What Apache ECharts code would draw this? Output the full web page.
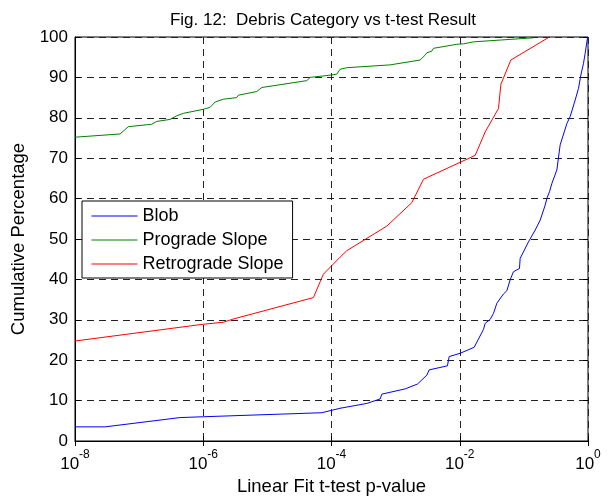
<!DOCTYPE html>
<html>
<head>
<meta charset="utf-8">
<script src="https://cdn.jsdelivr.net/npm/echarts@6/dist/echarts.min.js"></script>
<style>html,body{margin:0;padding:0;background:#fff}#c{width:610px;height:498px}</style>
</head>
<body>
<div id="c"></div>
<script>
// Blob
const blobP = [1e-8, 2.94e-8, 4.35e-7, 1e-6, 7.06e-5, 1.36e-4, 3.56e-4, 5.73e-4, 6.09e-4, 1.41e-3, 2.19e-3, 3.07e-3, 3.33e-3, 6.42e-3, 6.84e-3, 1.01e-2, 1.68e-2, 2.34e-2, 2.49e-2, 2.98e-2, 3.36e-2, 3.79e-2, 4.81e-2, 5.43e-2, 6.11e-2, 6.88e-2, 8.54e-2, 8.75e-2, 0.118, 0.150, 0.180, 0.215, 0.229, 0.251, 0.274, 0.327, 0.368, 0.469, 0.527, 0.631, 0.711, 0.775, 0.851, 0.904, 0.98, 1.0];
const blobPct = [3.5, 3.5, 5.8, 6.0, 7.0, 8.1, 9.3, 10.4, 11.6, 12.9, 14.1, 16.3, 17.6, 18.6, 20.9, 21.7, 23.2, 27.6, 29.1, 30.1, 31.6, 34.1, 36.4, 37.2, 39.9, 41.9, 42.7, 45.2, 49.3, 52.2, 54.7, 58.4, 60.1, 61.7, 63.8, 67.1, 73.3, 78.6, 80.3, 84.4, 87.3, 90.6, 93.5, 96.0, 99.7, 100];
// Prograde Slope
const proP = [1e-8, 5.04e-8, 6.79e-8, 1.57e-7, 1.88e-7, 3.04e-7, 3.86e-7, 4.90e-7, 1.0e-6, 1.28e-6, 1.53e-6, 2.06e-6, 3.33e-6, 3.53e-6, 6.84e-6, 8.18e-6, 4.12e-5, 4.64e-5, 1.01e-4, 1.21e-4, 1.36e-4, 1.73e-4, 8.2e-4, 2.41e-3, 2.88e-3, 3.07e-3, 3.67e-3, 3.89e-3, 9.0e-3, 1.14e-2, 1.64e-2, 0.141];
const proPct = [75.2, 76.0, 77.8, 78.4, 79.1, 79.6, 80.5, 81.1, 82.1, 82.6, 83.9, 84.6, 85.0, 85.6, 86.5, 87.5, 89.2, 90.0, 90.6, 90.8, 92.0, 92.4, 93.1, 94.3, 95.5, 96.1, 96.5, 97.2, 98.2, 98.3, 98.8, 99.8];
// Retrograde Slope
const retP = [1e-8, 1e-6, 2.06e-6, 2.95e-6, 5.22e-5, 7.48e-5, 1.36e-4, 1.73e-4, 7.3e-4, 1.79e-3, 2.72e-3, 1.74e-2, 2.49e-2, 4.02e-2, 4.38e-2, 6.27e-2, 0.25];
const retPct = [24.75, 28.9, 29.4, 30.2, 35.5, 41.3, 45.5, 47.1, 53.2, 59.0, 64.8, 70.7, 76.5, 82.3, 88.3, 94.3, 100];

const seriesNames = ['Blob', 'Prograde Slope', 'Retrograde Slope'];
const xTickExp = [-8, -6, -4, -2, 0];
const yTicks = [0, 10, 20, 30, 40, 50, 60, 70, 80, 90, 100];

const zip = (a, b) => a.map((v, i) => [v, b[i]]);
const font = 'Liberation Sans, Arial, sans-serif';

const chart = echarts.init(document.getElementById('c'));
const gridLine = { show: true, lineStyle: { color: '#222', width: 1, type: [7, 5] } };
chart.setOption({
  animation: false,
  backgroundColor: '#fff',
  title: {
    text: 'Fig. 12:  Debris Category vs t-test Result',
    left: 318, top: 7, textAlign: 'center',
    textStyle: { fontFamily: font, fontSize: 17, fontWeight: 'normal', color: '#000' }
  },
  grid: { left: 75, top: 37, right: 22, bottom: 57, show: true, borderColor: '#000', borderWidth: 1, backgroundColor: 'transparent', outerBoundsMode: 'none', containLabel: false },
  legend: {
    orient: 'vertical', left: 82, top: 201,
    data: seriesNames,
    backgroundColor: '#fff', borderColor: '#000', borderWidth: 1,
    padding: [6, 9, 5, 9],
    itemWidth: 46, itemHeight: 18, itemGap: 6,
    itemStyle: { opacity: 0 },
    lineStyle: { width: 1 },
    textStyle: { fontFamily: font, fontSize: 18, color: '#000' }
  },
  xAxis: [{
    type: 'log', logBase: 10, min: 1e-8, max: 1, interval: 2,
    name: 'Linear Fit t-test p-value', nameLocation: 'middle', nameGap: 35,
    nameTextStyle: { fontFamily: font, fontSize: 18.5, color: '#000' },
    axisLine: { show: true, lineStyle: { color: '#000' } },
    axisTick: { show: true, inside: true, length: 5, lineStyle: { color: '#000' } },
    minorTick: { show: false },
    splitLine: gridLine,
    axisLabel: {
      margin: 8,
      formatter: v => {
        const e = Math.round(Math.log10(v));
        return xTickExp.indexOf(e) >= 0 ? '{b|10}{s|' + e + '}' : '';
      },
      rich: {
        b: { fontFamily: font, fontSize: 17, color: '#000', lineHeight: 24, verticalAlign: 'bottom' },
        s: { fontFamily: font, fontSize: 12, color: '#000', lineHeight: 24, verticalAlign: 'top' }
      }
    }
  }, {
    type: 'log', logBase: 10, min: 1e-8, max: 1, interval: 2, position: 'top',
    axisLine: { show: false }, axisLabel: { show: false }, splitLine: { show: false },
    axisTick: { show: true, inside: true, length: 5, lineStyle: { color: '#000' } }
  }],
  yAxis: [{
    type: 'value', min: 0, max: 100, interval: 10,
    name: 'Cumulative Percentage', nameLocation: 'middle', nameGap: 42,
    nameTextStyle: { fontFamily: font, fontSize: 18.5, color: '#000' },
    axisLine: { show: true, lineStyle: { color: '#000' } },
    axisTick: { show: true, inside: true, length: 5, lineStyle: { color: '#000' } },
    splitLine: gridLine,
    axisLabel: { margin: 7, fontFamily: font, fontSize: 17, color: '#000',
      formatter: v => yTicks.indexOf(v) >= 0 ? String(v) : '' }
  }, {
    type: 'value', min: 0, max: 100, interval: 10, position: 'right',
    axisLine: { show: false }, axisLabel: { show: false }, splitLine: { show: false },
    axisTick: { show: true, inside: true, length: 5, lineStyle: { color: '#000' } }
  }],
  series: [
    { name: seriesNames[0], type: 'line', data: zip(blobP, blobPct), symbol: 'none', lineStyle: { color: '#0000ff', width: 1 }, itemStyle: { color: '#0000ff' } },
    { name: seriesNames[1], type: 'line', data: zip(proP, proPct), symbol: 'none', lineStyle: { color: '#008000', width: 1 }, itemStyle: { color: '#008000' } },
    { name: seriesNames[2], type: 'line', data: zip(retP, retPct), symbol: 'none', lineStyle: { color: '#ff0000', width: 1 }, itemStyle: { color: '#ff0000' } }
  ]
});
</script>
</body>
</html>
